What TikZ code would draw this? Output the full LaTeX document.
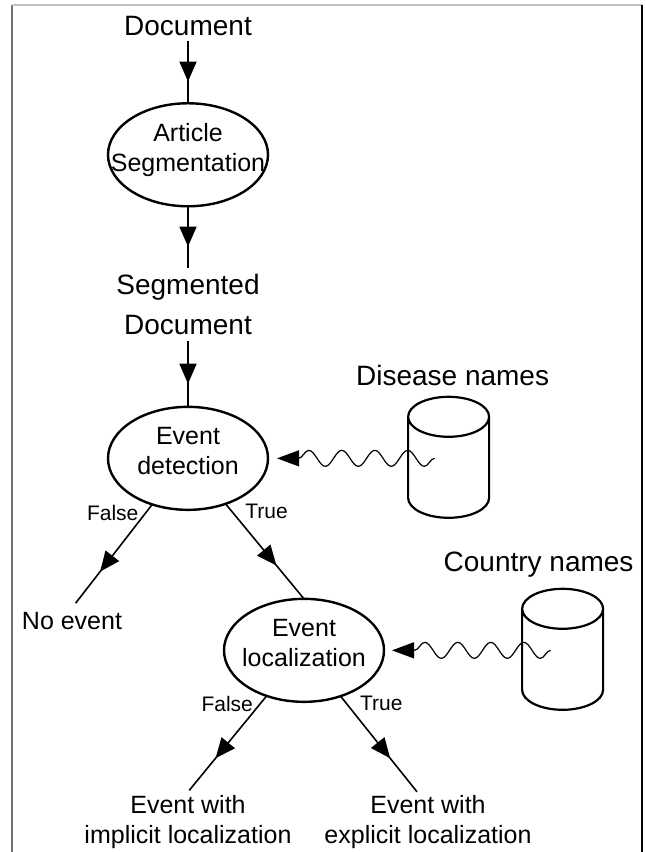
\documentclass[tikz,border=0pt]{standalone}
\usepackage{fontspec}
\setmainfont{Liberation Sans}
\usetikzlibrary{shapes.geometric,positioning,decorations.markings,decorations.pathmorphing,arrows.meta}

\begin{document}
\begin{tikzpicture}[
	procnode/.style={ellipse, draw=black, line width=1.2pt, minimum width=80pt, minimum height=51.5pt, inner sep=-12pt, outer sep=0pt, text depth=7pt, align=center, font=\fontsize{12.5}{15}\selectfont},
	bignode/.style={inner sep=3pt, outer sep=0pt, align=center, font=\fontsize{14}{20}\selectfont},
	outnode/.style={inner sep=2pt, outer sep=0pt, align=center, font=\fontsize{12.5}{15}\selectfont},
	lblnode/.style={font=\fontsize{10.5}{12}\selectfont},
	dbnode/.style={cylinder, shape border rotate=90, draw=black, line width=1.1pt, aspect=3, minimum width=40.5pt, minimum height=60.5pt, yshift=-7.5pt},
	midarrow/.style={line width=0.8pt, postaction={decorate}, decoration={markings, mark=at position 0.65 with {\arrow{Triangle[length=10pt,width=8.5pt]}}}},
	wavyarrow/.style={line width=0.6pt, -{Triangle[length=11pt,width=8pt]}, decorate, decoration={snake, segment length=16.5pt, amplitude=4pt, post length=11pt}}]
	\useasboundingbox (0,0) rectangle (323pt,-426pt);

	\node[bignode, anchor=base] (doc) at (94pt,-17.5pt) {Document};
	\node[procnode] (artseg) [below=31pt of doc] {Article\\Segmentation};
	\node[bignode] (segdoc) [below=31pt of artseg] {Segmented\\Document};
	\node[procnode] (detect) [below=33pt of segdoc] {Event\\detection};
	\node[outnode] (noevent) [below=49pt of detect, xshift=-58pt] {No event};
	\node[procnode] (locate) [below=44.5pt of detect, xshift=58pt] {Event\\localization};
	\node[outnode] (implicit) [below=45pt of locate, xshift=-58pt] {Event with\\implicit localization};
	\node[outnode] (explicit) [below=45pt of locate, xshift=62pt] {Event with\\explicit localization};
	\node[dbnode] (disease) [right=69.5pt of detect] {};
	\node[bignode] (disname) [above=2pt of disease, xshift=2pt] {Disease names};
	\node[dbnode] (country) [right=68.5pt of locate] {};
	\node[bignode] (ctyname) [above=2pt of country, xshift=-12pt] {Country names};

	\draw[midarrow] (doc) -- (artseg);
	\draw[midarrow] (artseg) -- (segdoc);
	\draw[midarrow] (segdoc) -- (detect);
	\draw[midarrow, shorten >=3pt] (detect) -- node[lblnode, pos=0.08, left] {False} (noevent.north);
	\draw[midarrow] (detect) -- node[lblnode, pos=0.08, right, xshift=3pt] {True} (locate.north);
	\draw[midarrow, shorten >=1pt] (locate) -- node[lblnode, pos=0.08, left] {False} (implicit.north);
	\draw[midarrow] (locate) -- node[lblnode, pos=0.08, right, xshift=3pt] {True} ([xshift=-5.5pt]explicit.north);

	\draw[wavyarrow, shorten >=4.5pt] ([xshift=-7pt]disease.center |- detect) -- (detect);
	\draw[wavyarrow, shorten >=4pt] ([xshift=-6pt]country.center |- locate) -- (locate);

	\draw[black!55, line width=0.6pt] (6pt,-426pt) -- (6pt,-2.5pt);
	\draw[black!25, line width=0.6pt] (6pt,-2.5pt) -- (321pt,-2.5pt);
	\draw[line width=0.8pt] (321pt,-2.5pt) -- (321pt,-426pt);
\end{tikzpicture}
\end{document}
